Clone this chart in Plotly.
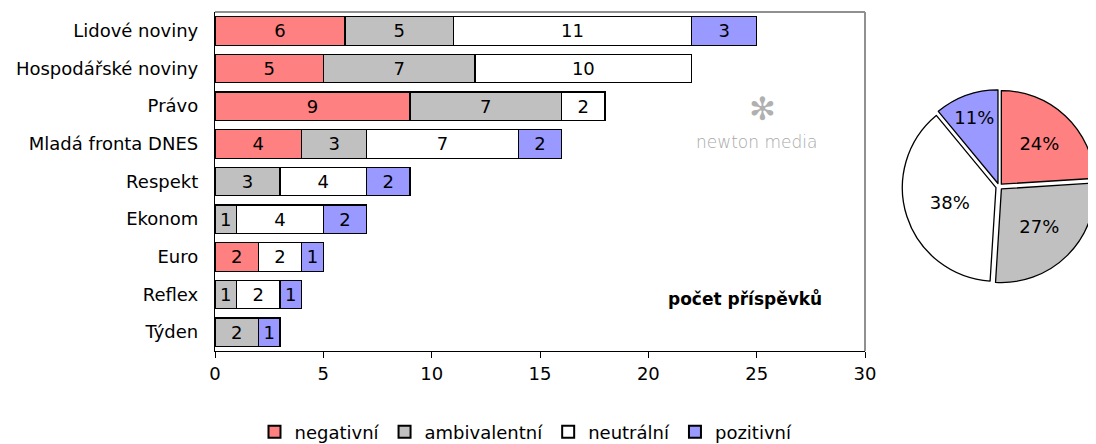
import plotly.graph_objects as go

# data
papers = ["Lidové noviny", "Hospodářské noviny", "Právo", "Mladá fronta DNES",
          "Respekt", "Ekonom", "Euro", "Reflex", "Týden"]
negativni = [6, 5, 9, 4, 0, 0, 2, 0, 0]
ambivalentni = [5, 7, 7, 3, 3, 1, 0, 1, 2]
neutralni = [11, 10, 2, 7, 4, 4, 2, 2, 0]
pozitivni = [3, 0, 0, 2, 2, 2, 1, 1, 1]

pie_labels = ["negativní", "ambivalentní", "neutrální", "pozitivní"]
pie_pct = [24, 27, 38, 11]

colors = ["#ff8080", "#c0c0c0", "#ffffff", "#9999ff"]
FONT = "Tahoma, DejaVu Sans, sans-serif"
FS = 18

fig = go.Figure()
for name, vals, col in zip(pie_labels, [negativni, ambivalentni, neutralni, pozitivni], colors):
    xs = [v if v else None for v in vals]
    fig.add_trace(go.Bar(
        y=papers, x=xs, name=name, orientation="h",
        marker=dict(color=col, line=dict(color="black", width=1.3)),
        text=[str(v) if v else "" for v in vals],
        textposition="inside", insidetextanchor="middle", textangle=0,
        constraintext="none",
        textfont=dict(family=FONT, size=FS, color="black"),
        hoverinfo="x+y+name",
    ))

fig.add_trace(go.Pie(
    labels=pie_labels, values=pie_pct, sort=False, direction="clockwise",
    rotation=0, pull=0.035, showlegend=False,
    marker=dict(colors=colors, line=dict(color="black", width=1.3)),
    texttemplate="%{value}%", textposition="inside", insidetextorientation="horizontal",
    textfont=dict(family=FONT, size=FS, color="black"),
    domain=dict(x=[0.78, 1.0], y=[0.19, 0.78]),
))

# page body has an 8px margin, so the figure is 8px smaller and shifted
fig.update_layout(
    width=1088, height=436,
    margin=dict(l=207, r=0, t=4, b=93, autoexpand=False),
    barmode="stack", bargap=0.24,
    plot_bgcolor="white", paper_bgcolor="white",
    font=dict(family=FONT, size=FS, color="black"),
    xaxis=dict(domain=[0, 650 / 881], range=[0, 30], dtick=5, showgrid=False,
               zeroline=False, showline=True, linecolor="black", linewidth=1.3,
               ticks="outside", ticklen=6, tickcolor="black", automargin=False,
               tickfont=dict(size=FS)),
    yaxis=dict(range=[8.5, -0.5], showgrid=False, zeroline=False,
               showline=True, linecolor="black", linewidth=1.3, automargin=False,
               ticks="outside", ticklen=12, tickcolor="rgba(0,0,0,0)",
               tickfont=dict(size=FS)),
    legend=dict(orientation="h", x=0.353, xanchor="center", y=-0.239, yanchor="middle",
                font=dict(size=FS), traceorder="normal", itemwidth=30,
                itemsizing="constant"),
    shapes=[
        dict(type="line", xref="x domain", yref="y domain", x0=0, x1=1, y0=1, y1=1,
             line=dict(color="#909090", width=2)),
        dict(type="line", xref="x domain", yref="y domain", x0=1, x1=1, y0=0, y1=1,
             line=dict(color="#909090", width=2)),
    ],
    annotations=[
        dict(text="<b>počet příspěvků</b>", xref="paper", yref="paper", x=0.6016, y=0.118,
             showarrow=False, font=dict(size=17)),
        dict(text="✻", xref="paper", yref="paper", x=0.622, y=0.775,
             showarrow=False, font=dict(size=32, color="#b0b0b0")),
        dict(text="newton media", xref="paper", yref="paper", x=0.615, y=0.617,
             showarrow=False, font=dict(size=17, color="#a8a8a8", weight=300)),
    ],
)

fig.write_html("out.html")
